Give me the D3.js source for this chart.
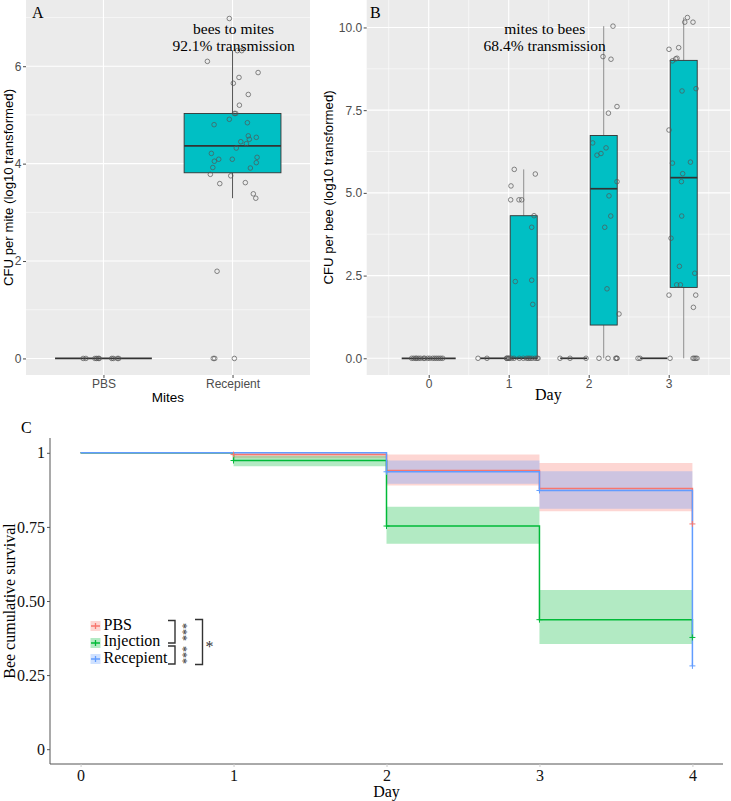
<!DOCTYPE html>
<html><head><meta charset="utf-8">
<script src="https://cdn.jsdelivr.net/npm/d3@7"></script>
<style>body{margin:0;background:#fff}svg{display:block}</style>
</head><body>
<svg id="c" width="731" height="801"></svg>
<script>
// ---------------- DATA ----------------
// Panel A: CFU per mite (log10)
const miteGroups = ["PBS", "Recepient"];
const mitePBS = [0,0,0,0,0,0,0,0,0,0];
const mitePBSJitter = [-0.157,-0.136,-0.066,-0.053,-0.040,-0.033,0.064,0.076,0.107,0.118];
const miteRecepient = [6.98,6.32,6.32,6.10,5.87,5.77,5.65,5.42,5.20,5.03,5.03,4.91,4.80,4.84,4.57,4.54,4.50,4.45,4.41,4.32,4.21,4.13,4.09,4.09,4.05,4.02,3.92,3.91,3.78,3.75,3.59,3.61,3.38,3.29,1.79,0,0,0];
const miteRecepientJitter = [-0.025,0.037,0.071,-0.195,0.198,0.050,0.006,0.122,0.053,0.014,0.025,-0.025,-0.143,0.115,0.122,0.184,0.130,0.064,0.107,0.029,-0.164,0.190,-0.107,-0.002,-0.141,0.184,-0.153,0.138,-0.172,-0.014,-0.099,0.099,0.161,0.180,-0.120,-0.149,-0.138,0.014];

// Panel B: CFU per bee (log10) by day
const beeDays = [0,1,2,3];
const beeGroups = ["PBS","Recepient"];
const beePBSDay0 = [0,0,0,0,0,0,0,0,0,0,0,0,0,0,0,0];
const beePBSDay0Jitter = [-0.213,-0.188,-0.163,-0.150,-0.125,-0.100,-0.063,-0.050,-0.013,0.013,0.050,0.075,0.100,0.125,0.150,0.175];
const beePBSDay1 = [0,0,0,0];
const beePBSDay1Jitter = [-0.196,-0.084,0.163,0.188];
const beePBSDay2 = [0,0,0];
const beePBSDay2Jitter = [-0.171,-0.046,0.154];
const beePBSDay3 = [0,0,0];
const beePBSDay3Jitter = [-0.196,-0.171,0.204];
const beeRecDay1 = [5.71,5.57,5.21,4.79,4.79,4.79,4.31,3.96,2.36,2.32,1.63,0,0,0,0,0,0,0,0,0,0,0,0,0,0];
const beeRecDay1Jitter = [-0.118,0.145,-0.159,-0.163,-0.059,-0.025,0.129,0.100,0.100,-0.105,0.113,-0.213,-0.196,-0.178,-0.153,-0.121,-0.055,-0.005,0.038,0.058,0.079,0.104,0.141,0.179,0.166];
const beeRecDay2 = [10.04,9.12,9.04,7.61,7.41,6.51,6.36,6.19,6.14,5.34,4.91,4.30,3.96,2.10,1.34,0,0,0,0,0];
const beeRecDay2Jitter = [0.116,-0.009,0.091,0.166,0.059,-0.138,0.029,-0.034,-0.084,0.166,0.066,0.088,0.013,0.041,0.191,-0.059,0.054,0.150,0.166,0.163];
const beeRecDay3 = [10.30,10.16,10.16,9.39,9.34,9.07,9.05,8.99,8.15,8.08,6.90,5.93,5.90,5.58,5.34,4.30,3.63,2.78,2.57,2.22,2.22,1.91,1.91,1.54,0,0,0,0];
const beeRecDay3Jitter = [0.046,0.013,0.116,-0.063,-0.184,-0.084,-0.100,-0.141,0.154,-0.021,-0.184,0.084,-0.141,-0.013,-0.029,-0.025,-0.159,-0.054,0.138,-0.088,-0.041,-0.184,0.150,0.121,0.116,0.131,0.150,0.166];

// Panel C: survival
const survDays = [0,1,2,3,4];
const survGroups = ["PBS","Injection","Recepient"];
const survPBS = [1,0.994,0.940,0.880,0.760];
const survInjection = [1,0.974,0.753,0.437,0.377];
const survRecepient = [1,1,0.936,0.873,0.281];
const lowerPBS = [1,0.982,0.890,0.803];
const upperPBS = [1,1,0.994,0.966];
const lowerInjection = [1,0.955,0.693,0.355];
const upperInjection = [1,0.990,0.818,0.537];
const lowerRecepient = [1,1,0.896,0.811];
const upperRecepient = [1,1,0.974,0.938];
const censorPBS = [1,4];
const censorInjection = [1,2,3,4];
const censorRecepient = [2,3,4];

const yTicksA = [0,2,4,6];
const yTicksB = [0,2.5,5,7.5,10];
const yTicksC = [0,0.25,0.5,0.75,1];
const yTickLabelsC = ["0","0.25","0.50","0.75","1"];

// ---------------- HELPERS ----------------
const svg = d3.select("#c");
const SANS = "'Liberation Sans', Arial, sans-serif";
const SERIF = "'Liberation Serif', 'Times New Roman', serif";
const FILL = "#00BFC4";

function boxStats(vals){
  const s = vals.slice().sort(d3.ascending);
  const q1 = d3.quantileSorted(s,0.25), med = d3.quantileSorted(s,0.5), q3 = d3.quantileSorted(s,0.75);
  const iqr = q3-q1;
  const lo = d3.min(s.filter(v=>v>=q1-1.5*iqr));
  const hi = d3.max(s.filter(v=>v<=q3+1.5*iqr));
  return {q1,med,q3,lo,hi};
}

function drawBox(g, cx, w, st, y, whiskerColor){
  g.append("line").attr("x1",cx).attr("x2",cx).attr("y1",y(st.q3)).attr("y2",y(st.hi))
    .attr("stroke",whiskerColor).attr("stroke-width",1);
  g.append("line").attr("x1",cx).attr("x2",cx).attr("y1",y(st.q1)).attr("y2",y(st.lo))
    .attr("stroke",whiskerColor).attr("stroke-width",1);
  if (st.q3 > st.q1) {
    g.append("rect").attr("x",cx-w/2).attr("width",w).attr("y",y(st.q3)).attr("height",y(st.q1)-y(st.q3))
      .attr("fill",FILL).attr("stroke","#333").attr("stroke-width",0.9);
  }
  g.append("line").attr("x1",cx-w/2).attr("x2",cx+w/2).attr("y1",y(st.med)).attr("y2",y(st.med))
    .attr("stroke","#333").attr("stroke-width",1.7);
}

function drawPoints(g, xs, vals, y){
  g.selectAll(null).data(vals.map((v,i)=>[xs[i],v])).join("circle")
    .attr("cx",d=>d[0]).attr("cy",d=>y(d[1])).attr("r",2.3)
    .attr("fill","none").attr("stroke","#555").attr("stroke-width",0.7);
}

function styleAxis(g, size){
  g.select(".domain").remove();
  g.selectAll(".tick line").attr("stroke","#333").attr("stroke-width",0.9);
  g.selectAll(".tick text").attr("fill","#4D4D4D").style("font-family",SANS).style("font-size",size+"px");
}

// ---------------- PANEL A ----------------
const A = {l:26, r:310, t:0, b:375};
const xA = d3.scalePoint().domain(miteGroups).range([A.l,A.r]).padding(0.6);
const yA = d3.scaleLinear().domain([-0.34,7.36]).range([A.b,A.t]);
const stepA = xA.step();
const gA = svg.append("g");
gA.append("rect").attr("x",A.l).attr("y",A.t).attr("width",A.r-A.l).attr("height",A.b-A.t).attr("fill","#EBEBEB");
gA.selectAll(null).data([1,3,5,7]).join("line").attr("x1",A.l).attr("x2",A.r)
  .attr("y1",d=>yA(d)).attr("y2",d=>yA(d)).attr("stroke","#fff").attr("stroke-width",0.55);
gA.selectAll(null).data(yTicksA).join("line").attr("x1",A.l).attr("x2",A.r)
  .attr("y1",d=>yA(d)).attr("y2",d=>yA(d)).attr("stroke","#fff").attr("stroke-width",1.1);
gA.selectAll(null).data(miteGroups).join("line").attr("y1",A.t).attr("y2",A.b)
  .attr("x1",d=>xA(d)).attr("x2",d=>xA(d)).attr("stroke","#fff").attr("stroke-width",1.1);

const miteSets = [[mitePBS,mitePBSJitter],[miteRecepient,miteRecepientJitter]];
miteSets.forEach(([vals,jit],i)=>{
  const cx = xA(miteGroups[i]);
  drawBox(gA, cx, stepA*0.75, boxStats(vals), yA, "#555");
});
miteSets.forEach(([vals,jit],i)=>{
  const cx = xA(miteGroups[i]);
  drawPoints(gA, jit.map(j=>cx+j*stepA), vals, yA);
});
const axAy = gA.append("g").attr("transform",`translate(${A.l},0)`)
  .call(d3.axisLeft(yA).tickValues(yTicksA).tickSize(3).tickPadding(1.5).tickFormat(d3.format("d")));
styleAxis(axAy,12);
const axAx = gA.append("g").attr("transform",`translate(0,${A.b})`)
  .call(d3.axisBottom(xA).tickSize(3).tickPadding(1.5));
styleAxis(axAx,12);
gA.append("text").attr("transform",`translate(13,${(A.t+A.b)/2}) rotate(-90)`).attr("text-anchor","middle")
  .style("font-family",SANS).style("font-size","13.2px").text("CFU per mite (log10 transformed)");
gA.append("text").attr("x",(A.l+A.r)/2).attr("y",401.5).attr("text-anchor","middle")
  .style("font-family",SANS).style("font-size","13.5px").text("Mites");
gA.append("text").attr("x",32).attr("y",17.5).style("font-family",SERIF).style("font-size","16px").text("A");
gA.append("text").attr("x",xA("Recepient")+1).attr("y",33.5).attr("text-anchor","middle")
  .style("font-family",SERIF).style("font-size","15.5px").text("bees to mites");
gA.append("text").attr("x",xA("Recepient")+1).attr("y",50.8).attr("text-anchor","middle")
  .style("font-family",SERIF).style("font-size","15.5px").text("92.1% transmission");

// ---------------- PANEL B ----------------
const B = {l:366.7, r:730, t:0, b:375};
const xB = d3.scaleLinear().domain([-0.775,3.766]).range([B.l,B.r]);
const yB = d3.scaleLinear().domain([-0.505,10.83]).range([B.b,B.t]);
const gB = svg.append("g");
gB.append("rect").attr("x",B.l).attr("y",B.t).attr("width",B.r-B.l).attr("height",B.b-B.t).attr("fill","#EBEBEB");
gB.selectAll(null).data([1.25,3.75,6.25,8.75]).join("line").attr("x1",B.l).attr("x2",B.r)
  .attr("y1",d=>yB(d)).attr("y2",d=>yB(d)).attr("stroke","#fff").attr("stroke-width",0.55);
gB.selectAll(null).data([-0.5,0.5,1.5,2.5,3.5]).join("line").attr("y1",B.t).attr("y2",B.b)
  .attr("x1",d=>xB(d)).attr("x2",d=>xB(d)).attr("stroke","#fff").attr("stroke-width",0.55);
gB.selectAll(null).data(yTicksB).join("line").attr("x1",B.l).attr("x2",B.r)
  .attr("y1",d=>yB(d)).attr("y2",d=>yB(d)).attr("stroke","#fff").attr("stroke-width",1.1);
gB.selectAll(null).data(beeDays).join("line").attr("y1",B.t).attr("y2",B.b)
  .attr("x1",d=>xB(d)).attr("x2",d=>xB(d)).attr("stroke","#fff").attr("stroke-width",1.1);

const dodge = 0.75;
const beeSets = [
  {day:0, slot:0, n:1, vals:beePBSDay0, jit:beePBSDay0Jitter},
  {day:1, slot:0, n:2, vals:beePBSDay1, jit:beePBSDay1Jitter},
  {day:1, slot:1, n:2, vals:beeRecDay1, jit:beeRecDay1Jitter},
  {day:2, slot:0, n:2, vals:beePBSDay2, jit:beePBSDay2Jitter},
  {day:2, slot:1, n:2, vals:beeRecDay2, jit:beeRecDay2Jitter},
  {day:3, slot:0, n:2, vals:beePBSDay3, jit:beePBSDay3Jitter},
  {day:3, slot:1, n:2, vals:beeRecDay3, jit:beeRecDay3Jitter}
];
beeSets.forEach(s=>{
  const slotW = dodge/s.n;
  s.center = s.day - dodge/2 + slotW*(s.slot+0.5);
  s.boxW = slotW*0.9;
});
const pxDay = xB(1)-xB(0);
beeSets.forEach(s=>{
  drawBox(gB, xB(s.center), s.boxW*pxDay, boxStats(s.vals), yB, "#8f8f8f");
});
beeSets.forEach(s=>{
  drawPoints(gB, s.jit.map(j=>xB(s.center+j)), s.vals, yB);
});
const axBy = gB.append("g").attr("transform",`translate(${B.l},0)`)
  .call(d3.axisLeft(yB).tickValues(yTicksB).tickSize(3).tickPadding(1.5).tickFormat(d3.format(".1f")));
styleAxis(axBy,12);
const axBx = gB.append("g").attr("transform",`translate(0,${B.b})`)
  .call(d3.axisBottom(xB).tickValues(beeDays).tickSize(3).tickPadding(1.5).tickFormat(d3.format("d")));
styleAxis(axBx,12);
gB.append("text").attr("transform",`translate(333,${(B.t+B.b)/2}) rotate(-90)`).attr("text-anchor","middle")
  .style("font-family",SANS).style("font-size","13.2px").text("CFU per bee (log10 transformed)");
gB.append("text").attr("x",(B.l+B.r)/2).attr("y",399.5).attr("text-anchor","middle")
  .style("font-family",SERIF).style("font-size","16px").text("Day");
gB.append("text").attr("x",370).attr("y",17.5).style("font-family",SERIF).style("font-size","16px").text("B");
gB.append("text").attr("x",xB(1.45)).attr("y",33.5).attr("text-anchor","middle")
  .style("font-family",SERIF).style("font-size","15.5px").text("mites to bees");
gB.append("text").attr("x",xB(1.45)).attr("y",50.8).attr("text-anchor","middle")
  .style("font-family",SERIF).style("font-size","15.5px").text("68.4% transmission");

// ---------------- PANEL C ----------------
const C = {l:50, r:723, t:438, b:764};
const xC = d3.scaleLinear().domain([-0.2,4.2]).range([C.l,C.r]);
const yC = d3.scaleLinear().domain([-0.05,1.05]).range([C.b,C.t]);
const gC = svg.append("g");
const colors = {PBS:"#F8766D", Injection:"#00BA38", Recepient:"#619CFF"};
const surv = {PBS:survPBS, Injection:survInjection, Recepient:survRecepient};
const lower = {PBS:lowerPBS, Injection:lowerInjection, Recepient:lowerRecepient};
const upper = {PBS:upperPBS, Injection:upperInjection, Recepient:upperRecepient};
const censor = {PBS:censorPBS, Injection:censorInjection, Recepient:censorRecepient};

const area = d3.area().curve(d3.curveStepAfter).x(d=>xC(d.t)).y0(d=>yC(d.lo)).y1(d=>yC(d.hi));
survGroups.forEach(gname=>{
  const lo = lower[gname], hi = upper[gname];
  const pts = survDays.map((t,i)=>({t, lo: lo[Math.min(i,lo.length-1)], hi: hi[Math.min(i,hi.length-1)]}));
  gC.append("path").attr("d",area(pts)).attr("fill",colors[gname]).attr("fill-opacity",0.3);
});
const line = d3.line().curve(d3.curveStepAfter).x(d=>xC(d[0])).y(d=>yC(d[1]));
survGroups.forEach(gname=>{
  gC.append("path").attr("d",line(survDays.map((t,i)=>[t,surv[gname][i]])))
    .attr("fill","none").attr("stroke",colors[gname]).attr("stroke-width",1.5);
});
survGroups.forEach(gname=>{
  censor[gname].forEach(t=>{
    const cx = xC(t), cy = yC(surv[gname][survDays.indexOf(t)]);
    gC.append("path").attr("d",`M${cx-3},${cy}H${cx+3}M${cx},${cy-3}V${cy+3}`)
      .attr("stroke",colors[gname]).attr("stroke-width",1);
  });
});
// axes
gC.append("line").attr("x1",C.l).attr("x2",C.l).attr("y1",C.t).attr("y2",C.b).attr("stroke","#555").attr("stroke-width",1);
gC.append("line").attr("x1",C.l).attr("x2",C.r).attr("y1",C.b).attr("y2",C.b).attr("stroke","#555").attr("stroke-width",1);
const axCy = gC.append("g").attr("transform",`translate(${C.l},0)`)
  .call(d3.axisLeft(yC).tickValues(yTicksC).tickSize(3).tickPadding(2).tickFormat((d,i)=>yTickLabelsC[i]));
axCy.select(".domain").remove();
axCy.selectAll(".tick line").attr("stroke","#555");
axCy.selectAll(".tick text").attr("fill","#111").style("font-family",SERIF).style("font-size","16px");
const axCx = gC.append("g").attr("transform",`translate(0,${C.b})`)
  .call(d3.axisBottom(xC).tickValues(survDays).tickSize(3).tickPadding(3).tickFormat(d3.format("d")));
axCx.select(".domain").remove();
axCx.selectAll(".tick line").attr("stroke","#ccc");
axCx.selectAll(".tick text").attr("fill","#111").style("font-family",SERIF).style("font-size","16px");
gC.append("text").attr("transform",`translate(15,${(C.t+C.b)/2}) rotate(-90)`).attr("text-anchor","middle")
  .style("font-family",SERIF).style("font-size","16px").text("Bee cumulative survival");
gC.append("text").attr("x",(C.l+C.r)/2).attr("y",797).attr("text-anchor","middle")
  .style("font-family",SERIF).style("font-size","16px").text("Day");
gC.append("text").attr("x",21).attr("y",433).style("font-family",SERIF).style("font-size","16px").text("C");

// legend
const legY = {PBS:626, Injection:643, Recepient:659};
const legTextY = {PBS:629.5, Injection:645.5, Recepient:663};
survGroups.forEach(gname=>{
  const cy = legY[gname], cx = 95.5;
  gC.append("rect").attr("x",cx-5).attr("y",cy-5).attr("width",10).attr("height",10)
    .attr("fill",colors[gname]).attr("fill-opacity",0.3);
  gC.append("path").attr("d",`M${cx-4.5},${cy}H${cx+4.5}M${cx},${cy-3}V${cy+3}`)
    .attr("stroke",colors[gname]).attr("stroke-width",1.3);
  gC.append("text").attr("x",103.5).attr("y",legTextY[gname]).style("font-family",SERIF).style("font-size","16px").text(gname);
});
const br = gC.append("g").attr("stroke","#333").attr("stroke-width",1.4).attr("fill","none");
br.append("path").attr("d","M168,620.5H175V643H168");
br.append("path").attr("d","M168,646H175V664H168");
br.append("path").attr("d","M195,619.5H202.5V664.5H195");
gC.append("text").attr("transform","translate(178.5,632) rotate(90)").attr("text-anchor","middle")
  .style("font-family",SERIF).style("font-size","12px").attr("fill","#333").text("***");
gC.append("text").attr("transform","translate(178.5,655) rotate(90)").attr("text-anchor","middle")
  .style("font-family",SERIF).style("font-size","12px").attr("fill","#333").text("***");
gC.append("text").attr("x",205.5).attr("y",652).style("font-family",SERIF).style("font-size","16px").attr("fill","#333").text("*");
</script>
</body></html>
